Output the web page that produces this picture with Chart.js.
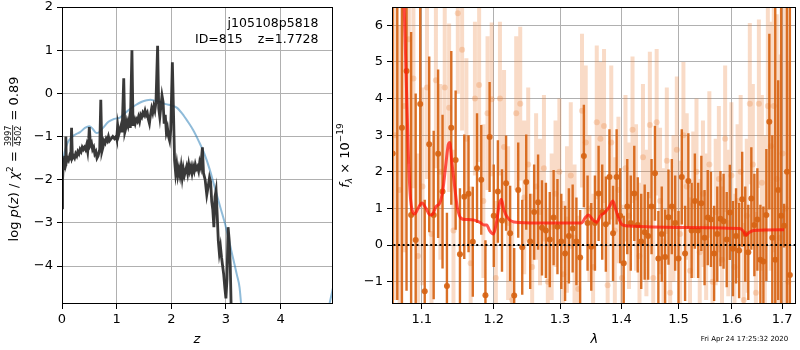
<!DOCTYPE html>
<html>
<head>
<meta charset="utf-8">
<script src="https://cdn.jsdelivr.net/npm/chart.js@4.4.0/dist/chart.umd.min.js"></script>
<style>
  html, body { margin: 0; padding: 0; background: #fff; }
  #wrap { position: relative; width: 800px; height: 350px; overflow: hidden; }
  canvas { position: absolute; top: 0; }
  #pz { left: 0; }
  #sp { left: 330px; }
</style>
</head>
<body>
<div id="wrap">
  <canvas id="pz" width="340" height="350"></canvas>
  <canvas id="sp" width="470" height="350"></canvas>
</div>
<script>
// ---------- redshift probability panel ----------
const zTicks = [0, 1, 2, 3, 4];
const logpTicks = [-4, -3, -2, -1, 0, 1, 2];

const zLine = [
  0.00, 0.01, 0.02, 0.035, 0.05, 0.06, 0.07, 0.08, 0.10, 0.12,
  0.14, 0.16, 0.175, 0.19, 0.21, 0.23, 0.25, 0.27, 0.29, 0.31,
  0.33, 0.35, 0.37, 0.39, 0.41, 0.43, 0.45, 0.47, 0.49, 0.50,
  0.52, 0.54, 0.56, 0.58, 0.60, 0.62, 0.64, 0.66, 0.69, 0.71,
  0.73, 0.75, 0.77, 0.79, 0.81, 0.83, 0.85, 0.87, 0.90, 0.93,
  0.96, 0.99, 1.00, 1.02, 1.04, 1.06, 1.08, 1.10, 1.13, 1.15,
  1.17, 1.19, 1.21, 1.23, 1.25, 1.28, 1.30, 1.32, 1.34, 1.36,
  1.38, 1.40, 1.42, 1.44, 1.46, 1.48, 1.50, 1.52, 1.54, 1.56,
  1.58, 1.60, 1.62, 1.64, 1.66, 1.68, 1.70, 1.72, 1.75, 1.77,
  1.79, 1.81, 1.83, 1.85, 1.87, 1.89, 1.91, 1.93, 1.95, 1.97,
  1.99, 2.02, 2.04, 2.06, 2.08, 2.10, 2.12, 2.14, 2.16, 2.18,
  2.20, 2.22, 2.24, 2.26, 2.28, 2.30, 2.32, 2.34, 2.36, 2.38,
  2.40, 2.42, 2.44, 2.46, 2.48, 2.50, 2.52, 2.54, 2.57, 2.59,
  2.62, 2.65, 2.67, 2.70, 2.72, 2.74, 2.76, 2.78, 2.80, 2.82,
  2.84, 2.86, 2.88, 2.90, 2.92, 2.94, 2.96, 2.98, 3.00, 3.02,
  3.04, 3.06, 3.08, 3.10, 3.12
];
const logpLine = [
  -2.65, -2.0, -1.75, -1.6, -1.45, -1.65, -1.0, -1.6, -1.5, -1.55,
  -1.45, -1.5, -0.8, -1.5, -1.45, -1.5, -1.4, -1.45, -1.35, -1.4,
  -1.3, -1.35, -1.25, -1.3, -1.25, -1.3, -1.2, -1.35, -1.05, -0.78,
  -1.2, -1.15, -1.3, -1.25, -1.4, -1.35, -1.5, -1.45, -1.3, -0.15,
  -1.35, -1.25, -1.1, -1.15, -1.05, -1.1, -1.0, -1.1, -1.05, -1.0,
  -1.05, -1.0, -1.05, -0.75, -0.95, -0.85, -0.75, -0.9, 0.35, -0.9,
  -0.8, -0.65, -0.75, -0.6, -0.8, 1.0, -0.75, -0.6, -0.7, -0.6,
  -0.65, -0.55, -0.65, -0.5, -0.55, -0.45, -0.5, -0.4, -0.5, -0.45,
  -0.6, -0.7, -0.5, -0.35, -0.45, -0.3, -0.4, -0.2, 1.1, -0.35,
  -0.55, -0.3, -0.05, -0.2, -0.7, -0.5, -0.9, -0.8, -1.0, -1.1,
  -0.85, 0.72, -0.4, -1.55, -1.85, -1.65, -1.9, -1.75, -1.9, -1.7,
  -1.95, -1.75, -1.9, -1.8, -1.7, -1.85, -1.65, -1.8, -1.7, -1.85,
  -1.7, -1.8, -1.65, -1.75, -1.7, -1.8, -1.6, -1.7, -1.25, -1.85,
  -2.0, -2.35, -2.2, -1.95, -2.05, -2.5, -2.7, -3.1, -2.4, -2.25,
  -2.8, -3.4, -3.7, -3.55, -3.8, -4.0, -4.2, -4.5, -4.75, -4.3,
  -3.1, -3.4, -4.0, -5.2, -6.0
];

// smooth prior curve (null splits the two visible pieces)
const zSmooth = [
  0.00, 0.05, 0.10, 0.17, 0.25, 0.33, 0.42, 0.50, 0.56, 0.63,
  0.68, 0.75, 0.85, 0.94, 1.00, 1.06, 1.15, 1.25, 1.35, 1.45,
  1.55, 1.62, 1.70, 1.80, 1.90, 2.00, 2.10, 2.20, 2.30, 2.40,
  2.50, 2.60, 2.70, 2.80, 2.90, 3.00, 3.10, 3.20, 3.25, 3.30,
  3.40, 4.00, 4.84, 4.90, 4.97
];
const logpSmooth = [
  -1.68, -1.35, -1.15, -1.02, -0.95, -0.90, -0.80, -0.76, -0.82, -0.92,
  -0.90, -0.80, -0.66, -0.60, -0.58, -0.56, -0.46, -0.36, -0.27, -0.20,
  -0.16, -0.15, -0.17, -0.20, -0.25, -0.28, -0.33, -0.47, -0.65, -0.85,
  -1.10, -1.38, -1.75, -2.20, -2.65, -3.10, -3.65, -4.20, -4.50, -5.20,
  -6.20, null, -5.20, -4.85, -4.45
];

const fieldName = 'j105108p5818';
const objectId = 'ID=815';
const bestZ = 'z=1.7728';
const chiNum = '3997', chiDen = '4502', chiRed = '0.89';

// ---------- spectrum panel ----------
const lamTicks = [1.1, 1.2, 1.3, 1.4, 1.5, 1.6, 1.7];
const fluxTicks = [-1, 0, 1, 2, 3, 4, 5, 6];

// primary spectrum (solid points)
const lamA = [
  1.062,1.068,1.074,1.080,1.086,1.092,1.098,1.104,1.110,1.116,
  1.122,1.128,1.134,1.140,1.146,1.152,1.158,1.164,1.170,1.176,
  1.182,1.188,1.194,1.200,1.206,1.212,1.218,1.224,1.230,1.236,
  1.242,1.248,1.254,1.260,1.266,1.272,1.278,1.284,1.290,1.296,
  1.302,1.308,1.314,1.320,1.326,1.332,1.338,1.344,1.350,1.356,
  1.362,1.368,1.374,1.380,1.386,1.392,1.398,1.404,1.410,1.416,
  1.422,1.428,1.434,1.440,1.446,1.452,1.458,1.464,1.470,1.476,
  1.482,1.488,1.494,1.500,1.506,1.512,1.518,1.524,1.530,1.536,
  1.542,1.548,1.554,1.560,1.566,1.572,1.578,1.584,1.590,1.596,
  1.602,1.608,1.614,1.620,1.626,1.632,1.638,1.644,1.650,1.656,
  1.662,1.668,1.674,1.680,1.686,1.692,1.698,1.704,1.710,1.716
];
const fluxA = [
  2.5,7.5,3.2,4.75,0.82,0.14,3.85,-1.26,2.75,0.82,
  2.49,1.46,-1.12,3.2,2.32,-0.25,1.32,1.4,0.09,2.1,
  1.78,-1.37,2.95,0.8,1.46,0.67,1.69,0.32,-1.38,1.5,
  -0.06,1.72,0.1,0.9,1.17,0.47,0.4,0.15,0.75,0.5,
  0.1,-0.23,0.25,0.45,0.1,-0.34,2.43,0.6,-0.05,0.6,
  1.41,0.9,0.57,1.86,0.32,1.86,0.8,-0.5,1.05,0.6,
  1.41,0.55,0.1,0.35,0.25,1.05,1.96,-0.37,0.3,-0.33,
  0.76,1.05,0.6,-0.37,1.86,-0.23,1.75,0.4,1.2,0.4,
  1.14,0.2,0.75,0.7,-0.23,0.3,0.72,0.65,0.15,0.89,
  -0.1,0.25,-0.15,1.25,0.3,-0.2,1.27,0.55,0.7,-0.4,
  -0.45,0.82,3.37,0.2,-0.4,1.5,0.8,0.53,2.0,-0.82
];
const errA = [
  9,9,9,6,5,4,2.8,2.5,2.4,2.3,
  2.3,2.1,2.0,2.1,1.9,1.8,1.7,1.6,1.5,1.5,
  1.5,1.5,1.5,1.4,1.4,1.4,1.3,1.3,1.3,1.3,
  1.3,1.3,1.3,1.3,1.3,1.3,1.3,1.3,1.3,1.3,
  1.3,1.3,1.3,1.2,1.2,1.3,1.4,1.3,1.2,1.3,
  1.3,1.3,1.3,1.3,1.3,1.3,1.3,1.3,1.3,1.3,
  1.3,1.3,1.3,1.3,1.2,1.3,1.3,1.3,1.3,1.3,
  1.3,1.3,1.3,1.3,1.3,1.3,1.3,1.3,1.3,1.3,
  1.3,1.3,1.3,1.3,1.3,1.3,1.3,1.3,1.3,1.3,
  1.3,1.3,1.3,1.3,1.3,1.3,1.4,1.4,1.4,1.5,
  1.5,1.8,2.4,2.8,8,3.0,8,0.6,9,9
];

// second spectrum (faint points)
const lamB = [
  1.065,1.071,1.077,1.083,1.089,1.095,1.101,1.107,1.113,1.119,
  1.125,1.131,1.137,1.143,1.149,1.155,1.161,1.167,1.173,1.179,
  1.185,1.191,1.197,1.203,1.209,1.215,1.221,1.227,1.233,1.239,
  1.245,1.251,1.257,1.263,1.269,1.275,1.281,1.287,1.293,1.299,
  1.305,1.311,1.317,1.323,1.329,1.335,1.341,1.347,1.353,1.359,
  1.365,1.371,1.377,1.383,1.389,1.395,1.401,1.407,1.413,1.419,
  1.425,1.431,1.437,1.443,1.449,1.455,1.461,1.467,1.473,1.479,
  1.485,1.491,1.497,1.503,1.509,1.515,1.521,1.527,1.533,1.539,
  1.545,1.551,1.557,1.563,1.569,1.575,1.581,1.587,1.593,1.599,
  1.605,1.611,1.617,1.623,1.629,1.635,1.641,1.647,1.653,1.659,
  1.665,1.671,1.677,1.683,1.689,1.695,1.701,1.707,1.713
];
const fluxB = [
  3.0,1.5,3.8,5.62,4.55,-0.3,1.6,4.3,0.3,4.5,
  2.0,4.3,3.75,0.4,6.33,5.33,2.9,-0.5,4.0,4.37,
  1.2,3.6,3.98,-0.9,4.0,2.68,0.6,-1.5,3.6,3.86,
  1.3,2.2,-0.6,1.6,0.9,2.1,-1.0,0.5,1.4,2.0,
  -0.8,0.7,1.9,0.2,-1.2,3.67,2.8,1.0,-0.6,3.35,
  2.9,3.25,-1.1,2.8,0.4,1.5,-0.9,2.1,0.8,3.15,
  1.3,-0.3,2.4,0.6,3.28,-0.9,3.35,1.2,0.1,2.3,
  -1.3,1.0,2.6,0.3,3.0,1.6,-0.7,1.1,2.0,-0.2,
  1.4,0.5,2.2,-1.0,0.9,1.8,-0.4,2.9,0.6,1.9,
  -0.6,1.2,2.0,-1.5,0.8,3.86,2.2,-1.3,3.86,1.7,
  0.4,3.8,2.7,3.8,1.8,0.2,2.5,1.0,-1.0
];
const errB = [
  4.5,4.5,4.0,3.4,3.0,2.8,2.7,2.5,2.4,2.4,
  2.4,2.3,2.3,2.2,2.2,2.2,2.2,2.1,2.1,2.1,
  2.1,2.1,2.1,2.1,2.1,2.1,2.1,2.1,2.1,2.1,
  2.1,2.1,2.0,2.0,2.0,2.0,2.0,2.0,2.0,2.0,
  2.0,2.0,2.0,2.0,2.0,2.1,2.1,2.0,2.0,2.1,
  2.1,2.1,2.0,2.1,2.0,2.0,2.0,2.0,2.0,2.0,
  2.0,2.0,2.0,2.0,2.0,2.0,2.0,2.0,2.0,2.0,
  2.0,2.0,2.0,2.0,2.0,2.0,2.0,2.0,2.0,2.0,
  2.0,2.0,2.0,2.0,2.0,2.0,2.0,2.0,2.0,2.0,
  2.0,2.1,2.1,2.1,2.1,2.2,2.2,2.2,2.3,2.4,
  2.6,2.9,3.4,4.0,4.5,5.0,5.0,5.5,6.0
];

// best-fit template
const lamModel = [
  1.0718,1.0769,1.0795,1.0822,1.0847,1.0881,1.0906,1.0951,1.1004,1.1057,
  1.111,1.1149,1.119,1.1244,1.1284,1.1325,1.1359,1.1379,1.1406,1.1446,
  1.1486,1.1541,1.1594,1.1719,1.1802,1.1857,1.1899,1.1938,1.1996,1.2038,
  1.208,1.2109,1.2149,1.2222,1.2296,1.2666,1.3341,1.3405,1.3454,1.352,
  1.3585,1.3651,1.3733,1.3799,1.3857,1.39,1.395,1.4018,1.4118,1.4996,
  1.615,1.6222,1.6273,1.6328,1.6426,1.6999,1.704
];
const fluxModel = [
  9.0,6.5,4.6,2.6,1.4,0.9,0.85,1.0,1.15,1.0,
  0.82,0.85,1.05,1.15,1.5,2.2,2.75,2.8,2.3,1.6,
  1.0,0.72,0.7,0.68,0.62,0.55,0.55,0.4,0.3,0.6,
  1.1,1.25,0.95,0.7,0.63,0.6,0.6,0.75,0.82,0.7,
  0.62,0.8,0.9,1.05,1.2,1.0,0.75,0.55,0.52,0.48,
  0.45,0.38,0.27,0.33,0.4,0.42,0.42
];

const stamp = 'Fri Apr 24 17:25:32 2020';

// ---------- helpers ----------
const FAM = '"DejaVu Sans"';
const fnt = (size, italic) => (italic ? 'italic ' : '') + size + 'px ' + FAM;
const minus = v => String(v).replace('-', '\u2212');
const pairs = (xs, ys) => xs.map((x, i) => ({ x, y: ys[i] }));
function errorSegments(xs, ys, es) {
  const out = [];
  xs.forEach((x, i) => {
    out.push({ x, y: ys[i] - es[i] }, { x, y: ys[i] + es[i] }, { x, y: null });
  });
  return out;
}
const gridOpts = { color: '#b0b0b0', lineWidth: 1, tickColor: '#000', tickLength: 5, drawTicks: true };

const framePlugin = {
  id: 'frame',
  afterDatasetsDraw(chart) {
    const { ctx, chartArea: a } = chart;
    ctx.save();
    ctx.strokeStyle = '#000';
    ctx.lineWidth = 1;
    ctx.strokeRect(a.left + 0.5, a.top + 0.5, a.right - a.left - 1, a.bottom - a.top - 1);
    ctx.restore();
  }
};

// draws a sequence of text runs along the current x direction, centred on 0
function drawRuns(ctx, runs, baseY) {
  let total = 0;
  runs.forEach(r => {
    ctx.font = r.f;
    r.w = r.frac
      ? Math.max(ctx.measureText(r.frac[0]).width, ctx.measureText(r.frac[1]).width) + 2
      : ctx.measureText(r.t).width;
    total += r.w;
  });
  let x = -total / 2;
  ctx.textAlign = 'left';
  ctx.textBaseline = 'alphabetic';
  runs.forEach(r => {
    ctx.font = r.f;
    if (r.frac) {
      const cx = x + r.w / 2;
      ctx.textAlign = 'center';
      ctx.fillText(r.frac[0], cx, baseY - 7);
      ctx.fillText(r.frac[1], cx, baseY + 3);
      ctx.textAlign = 'left';
      ctx.fillRect(x + 0.5, baseY - 5.6, r.w - 1, 0.8);
    } else {
      ctx.fillText(r.t, x, baseY + (r.dy || 0));
    }
    x += r.w;
  });
}

// ---------- p(z) chart ----------
new Chart(document.getElementById('pz'), {
  type: 'line',
  data: {
    datasets: [
      {
        data: pairs(zLine, logpLine),
        borderColor: 'rgba(40,40,40,0.92)',
        borderWidth: 2.8,
        pointRadius: 0,
        tension: 0,
        clip: 0,
        order: 1
      },
      {
        data: pairs(zSmooth, logpSmooth),
        borderColor: 'rgba(31,119,180,0.5)',
        borderWidth: 2,
        pointRadius: 0,
        cubicInterpolationMode: 'monotone',
        spanGaps: false,
        clip: 0,
        order: 2
      }
    ]
  },
  options: {
    responsive: false,
    animation: false,
    devicePixelRatio: 1,
    events: [],
    layout: { padding: { left: 0, top: 7, right: 7, bottom: 0 } },
    plugins: { legend: { display: false }, tooltip: { enabled: false } },
    scales: {
      x: {
        type: 'linear', min: 0, max: 4.96,
        afterBuildTicks: s => { s.ticks = zTicks.map(v => ({ value: v })); },
        afterFit: s => { s.height = 46; s.paddingLeft = 0; s.paddingRight = 0; },
        ticks: { callback: v => minus(v), color: '#000', font: { family: 'DejaVu Sans', size: 13 }, padding: 3, maxRotation: 0, autoSkip: false },
        grid: gridOpts,
        border: { display: false }
      },
      y: {
        type: 'linear', min: -4.88, max: 2,
        afterBuildTicks: s => { s.ticks = logpTicks.map(v => ({ value: v })); },
        afterFit: s => { s.width = 62; s.paddingTop = 0; s.paddingBottom = 0; },
        ticks: { callback: v => minus(v), color: '#000', font: { family: 'DejaVu Sans', size: 13 }, padding: 4, autoSkip: false },
        grid: gridOpts,
        border: { display: false }
      }
    }
  },
  plugins: [framePlugin, {
    id: 'pzText',
    afterDraw(chart) {
      const ctx = chart.ctx;
      ctx.save();
      ctx.fillStyle = '#000';
      ctx.font = fnt(12.5);
      ctx.textBaseline = 'middle';
      ctx.textAlign = 'right';
      ctx.fillText(fieldName, 318.5, 24);
      ctx.fillText(bestZ, 318.5, 40);
      ctx.textAlign = 'left';
      ctx.fillText(objectId, 195, 40);
      ctx.font = fnt(13, true);
      ctx.textAlign = 'center';
      ctx.fillText('z', 197, 340);
      ctx.translate(13.3, 159);
      ctx.rotate(-Math.PI / 2);
      drawRuns(ctx, [
        { t: 'log ', f: fnt(13) }, { t: 'p', f: fnt(13, true) }, { t: '(', f: fnt(13) },
        { t: 'z', f: fnt(13, true) }, { t: ') / ', f: fnt(13) }, { t: '\u03c7', f: fnt(13, true) },
        { t: '2', f: fnt(9), dy: -5 }, { t: ' = ', f: fnt(13) },
        { frac: [chiNum, chiDen], f: fnt(8) }, { t: ' = ' + chiRed, f: fnt(13) }
      ], 4.6);
      ctx.restore();
    }
  }]
});

// ---------- spectrum chart ----------
const dark = 'rgba(215,100,20,0.92)';
const light = 'rgba(232,125,55,0.28)';
new Chart(document.getElementById('sp'), {
  type: 'line',
  data: {
    datasets: [
      { data: [{ x: 1.0, y: 0 }, { x: 1.8, y: 0 }], borderColor: '#000', borderWidth: 2, borderDash: [2, 2.6], pointRadius: 0, clip: 0, order: 1 },
      { data: pairs(lamModel, fluxModel), borderColor: 'rgba(255,20,10,0.72)', borderWidth: 3, pointRadius: 0, cubicInterpolationMode: 'monotone', clip: 0, order: 2 },
      { data: pairs(lamA, fluxA), showLine: false, pointRadius: 3, pointBorderWidth: 0, pointBackgroundColor: dark, clip: 0, order: 3 },
      { data: errorSegments(lamA, fluxA, errA), borderColor: dark, borderWidth: 2.4, borderCapStyle: 'butt', pointRadius: 0, spanGaps: false, clip: 0, order: 4 },
      { data: pairs(lamB, fluxB), showLine: false, pointRadius: 3, pointBorderWidth: 0, pointBackgroundColor: light, clip: 0, order: 5 },
      { data: errorSegments(lamB, fluxB, errB), borderColor: light, borderWidth: 4, borderCapStyle: 'butt', pointRadius: 0, spanGaps: false, clip: 0, order: 6 }
    ]
  },
  options: {
    responsive: false,
    animation: false,
    devicePixelRatio: 1,
    events: [],
    layout: { padding: { left: 0, top: 7, right: 1, bottom: 0 } },
    plugins: { legend: { display: false }, tooltip: { enabled: false } },
    scales: {
      x: {
        type: 'logarithmic', min: 1.0612, max: 1.7288,
        afterBuildTicks: s => { s.ticks = lamTicks.map(v => ({ value: v })); },
        afterFit: s => { s.height = 46; s.paddingLeft = 0; s.paddingRight = 0; },
        ticks: { callback: v => Number(v).toFixed(1), color: '#000', font: { family: 'DejaVu Sans', size: 13 }, padding: 3, maxRotation: 0, autoSkip: false },
        grid: gridOpts,
        border: { display: false }
      },
      y: {
        type: 'linear', min: -1.61, max: 6.5,
        afterBuildTicks: s => { s.ticks = fluxTicks.map(v => ({ value: v })); },
        afterFit: s => { s.width = 62; s.paddingTop = 0; s.paddingBottom = 0; },
        ticks: { callback: v => minus(v), color: '#000', font: { family: 'DejaVu Sans', size: 13 }, padding: 4, autoSkip: false },
        grid: gridOpts,
        border: { display: false }
      }
    }
  },
  plugins: [framePlugin, {
    id: 'spText',
    afterDraw(chart) {
      const ctx = chart.ctx;
      ctx.save();
      ctx.fillStyle = '#000';
      ctx.font = fnt(13, true);
      ctx.textAlign = 'center';
      ctx.textBaseline = 'middle';
      ctx.fillText('\u03bb', 594.3 - 330, 340);
      ctx.font = fnt(7);
      ctx.textAlign = 'left';
      ctx.fillText(stamp, 700.7 - 330, 339.5);
      ctx.translate(344 - 330, 155.5);
      ctx.rotate(-Math.PI / 2);
      drawRuns(ctx, [
        { t: 'f', f: fnt(13, true) }, { t: '\u03bb', f: fnt(9, true), dy: 3 },
        { t: ' \u00d7 10', f: fnt(13) }, { t: '\u221219', f: fnt(9), dy: -6 }
      ], 4.7);
      ctx.restore();
    }
  }]
});
</script>
</body>
</html>
